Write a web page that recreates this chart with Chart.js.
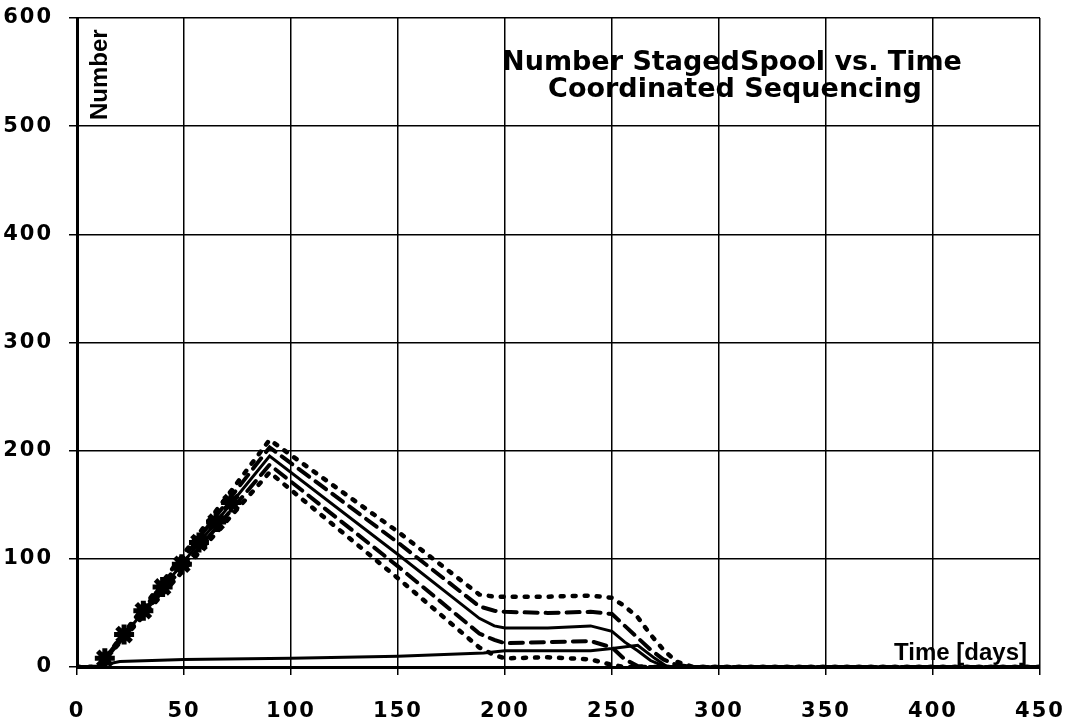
<!DOCTYPE html>
<html>
<head>
<meta charset="utf-8">
<script src="https://cdn.jsdelivr.net/npm/chart.js@4.4.1/dist/chart.umd.min.js"></script>
<style>
  html, body { margin: 0; padding: 0; background: #fff; }
  #wrap { width: 1068px; height: 725px; }
</style>
</head>
<body>
<div id="wrap"><canvas id="grafico"></canvas></div>
<script>
// tiempo de simulacion (dias) para las curvas de media y bandas
const dias = [0, 10, 90, 150, 188, 195, 200, 220, 240, 250, 256, 262, 268, 274, 280, 288, 450];
const media = [0, 0, 195, 104, 45, 38, 36, 36, 38, 33, 23, 15, 6, 1, 0, 0, 0];
const masUno = [0, 0, 203, 115, 56, 52, 51, 50, 51, 49, 38, 27, 16, 7, 2, 0, 0];
const masDos = [0, 0, 210, 125, 67, 65, 65, 65, 66, 64, 56, 46, 30, 16, 5, 0, 0];
const menosUno = [0, 0, 187, 93, 31, 25, 22, 23, 24, 18, 7, 1, 0, 0, 0, 0, 0];
const menosDos = [0, 0, 180, 82, 18, 11, 8, 9, 7, 2, 0, 0, 0, 0, 0, 0, 0];

// curva baja (staged)
const diasStaged = [0, 10, 20, 50, 100, 150, 190, 200, 240, 250, 262, 270, 276, 450];
const staged = [0, 1, 5, 7, 8, 10, 13, 15, 15, 17, 20, 8, 0, 0];

// marcadores sobre la subida
const diasMarca = [13, 22, 31, 40, 49, 57, 65, 72];
const marcas = [8, 30, 52, 74, 95, 115, 134, 152];

const ticksX = [0, 50, 100, 150, 200, 250, 300, 350, 400, 450];
const ticksY = [0, 100, 200, 300, 400, 500, 600];

const titulo = ["Number StagedSpool vs. Time", "Coordinated Sequencing"];

function puntos(xs, ys) {
  return xs.map((x, i) => ({ x: x, y: ys[i] }));
}

function serie(xs, ys, dash, ancho) {
  return {
    data: puntos(xs, ys),
    showLine: true,
    borderColor: "#000",
    backgroundColor: "#000",
    borderWidth: ancho,
    borderDash: dash,
    borderCapStyle: dash.length ? "round" : "butt",
    pointRadius: 0,
    tension: 0,
  };
}

// numeros de los ejes un poco espaciados
const espaciado = {
  id: "espaciado",
  beforeDraw(chart) {
    chart.ctx.letterSpacing = "2px";
  },
};

const textos = {
  id: "textos",
  afterDraw(chart) {
    const ctx = chart.ctx;
    ctx.save();
    ctx.letterSpacing = "0px";
    ctx.fillStyle = "#000";
    ctx.font = "bold 27px 'DejaVu Sans', sans-serif";
    ctx.textAlign = "center";
    ctx.textBaseline = "alphabetic";
    ctx.fillText(titulo[0], 732, 70);
    ctx.fillText(titulo[1], 735, 97);

    ctx.font = "bold 24px 'Liberation Sans', Arial, sans-serif";
    ctx.textAlign = "right";
    ctx.fillText("Time [days]", 1027, 660);

    ctx.translate(107, 120);
    ctx.rotate(-Math.PI / 2);
    ctx.textAlign = "left";
    ctx.fillText("Number", 0, 0);
    ctx.restore();
  },
};

const ctx = document.getElementById("grafico").getContext("2d");
new Chart(ctx, {
  type: "scatter",
  data: {
    datasets: [
      serie(diasStaged, staged, [], 3),
      serie(dias, menosDos, [3, 9], 4.5),
      serie(dias, masDos, [3, 9], 4.5),
      serie(dias, menosUno, [13, 8], 4),
      serie(dias, masUno, [13, 8], 4),
      serie(dias, media, [], 3),
      {
        data: puntos(diasMarca, marcas),
        showLine: false,
        pointStyle: "star",
        pointRadius: 10,
        pointBorderWidth: 5,
        borderColor: "#000",
        backgroundColor: "#000",
      },
    ],
  },
  options: {
    responsive: true,
    maintainAspectRatio: false,
    animation: false,
    layout: { padding: { top: 18, right: 28, left: 0, bottom: 0 } },
    plugins: { legend: { display: false }, tooltip: { enabled: false } },
    scales: {
      x: {
        type: "linear",
        min: 0,
        max: 450,
        afterBuildTicks: (s) => { s.ticks = ticksX.map((v) => ({ value: v })); },
        afterFit: (s) => {
          s.height = 58;
          s.paddingLeft = 0;
          s.paddingRight = 0;
        },
        grid: { color: "#000", lineWidth: 1.5, tickLength: 8 },
        border: { color: "#000", width: 3 },
        ticks: {
          color: "#000",
          padding: 24,
          maxRotation: 0,
          font: { family: "'DejaVu Sans'", weight: "bold", size: 21 },
        },
      },
      y: {
        type: "linear",
        min: 0,
        max: 600,
        afterBuildTicks: (s) => { s.ticks = ticksY.map((v) => ({ value: v })); },
        afterFit: (s) => {
          s.width = 77;
          s.paddingTop = 0;
          s.paddingBottom = 0;
        },
        grid: { color: "#000", lineWidth: 1.5, tickLength: 8 },
        border: { color: "#000", width: 3 },
        ticks: {
          color: "#000",
          padding: 16,
          font: { family: "'DejaVu Sans'", weight: "bold", size: 21 },
        },
      },
    },
  },
  plugins: [espaciado, textos],
});
</script>
</body>
</html>
